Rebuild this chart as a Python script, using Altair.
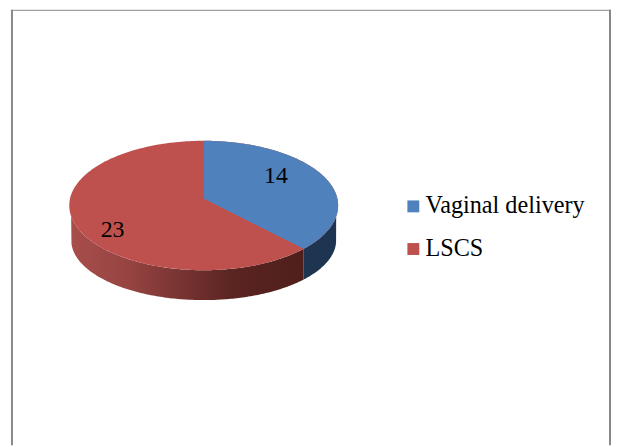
import numpy as np
import pandas as pd
import altair as alt

categories = ["Vaginal delivery", "LSCS"]
values = [14, 23]
colors = ["#4F81BD", "#BE504D"]

# layout of the tilted pie, in page pixels
CX, CY, A, B = 204.5, 204.5, 135.0, 65.0     # top face ellipse
BCY, BA, BB = 239.5, 133.0, 60.0             # bottom rim ellipse
APEX_Y = 197.5                               # slice apex (perspective shift)
W, H = 608, 439
S = 0.996                                    # photographed size of the page against its layout size

theta_end = 2 * np.pi * values[0] / sum(values)
dx, dy = A * np.sin(theta_end), -B * np.cos(theta_end)
aa = (dx / A) ** 2 + (dy / B) ** 2
bb = 2 * dy * (APEX_Y - CY) / B ** 2
cc = ((APEX_Y - CY) / B) ** 2 - 1
t = (-bb + np.sqrt(bb ** 2 - 4 * aa * cc)) / (2 * aa)
PX, PY = CX + t * dx, APEX_Y + t * dy


def xs(lo, hi):
    th = np.linspace(np.arccos(np.clip((lo - CX) / A, -1, 1)), np.arccos(np.clip((hi - CX) / A, -1, 1)), 160)
    return CX + A * np.cos(th)


def upper(x):
    return CY - B * np.sqrt(np.clip(1 - ((x - CX) / A) ** 2, 0, 1))


def lower(x):
    return CY + B * np.sqrt(np.clip(1 - ((x - CX) / A) ** 2, 0, 1))


def rim(x):
    r = np.clip(1 - ((x - CX) / BA) ** 2, 0, 1)
    y = BCY + BB * np.sqrt(r)
    return np.where(np.abs(x - CX) > BA, lower(x), y)


x_all = xs(CX - A, CX + A)
red_top = pd.DataFrame({"x": x_all, "y": upper(x_all), "y2": lower(x_all), "cat": categories[1]})

x_blue = np.unique(np.concatenate([xs(CX, CX + A), [PX]]))
slice_edge = APEX_Y + (x_blue - CX) * (PY - APEX_Y) / (PX - CX)
blue_low = np.where(x_blue <= PX, slice_edge, lower(x_blue))
blue_top = pd.DataFrame({"x": x_blue, "y": upper(x_blue), "y2": blue_low, "cat": categories[0]})

x_wr = xs(CX - A, PX)
wall_red = pd.DataFrame({"x": x_wr, "y": lower(x_wr), "y2": rim(x_wr)})
x_wb = xs(PX, CX + A)
wall_blue = pd.DataFrame({"x": x_wb, "y": lower(x_wb), "y2": rim(x_wb)})

labels = pd.DataFrame({"x": [277, 113], "y": [175, 229], "t": [str(v) for v in values]})

X = alt.X("x:Q", scale=alt.Scale(domain=[8 * S, (8 + W) * S], nice=False, zero=False), axis=None)
Y = alt.Y("y:Q", scale=alt.Scale(domain=[(8 + H) * S, 8 * S], nice=False, zero=False), axis=None)
Y2 = alt.Y2("y2:Q")

grad_red = alt.Gradient(
    gradient="linear", x1=0, x2=1, y1=0, y2=0,
    stops=[
        alt.GradientStop(offset=0, color="#A84E4B"),
        alt.GradientStop(offset=0.25, color="#964442"),
        alt.GradientStop(offset=0.5, color="#743230"),
        alt.GradientStop(offset=0.7, color="#5A2421"),
        alt.GradientStop(offset=1, color="#4F1F1C"),
    ],
)

color = alt.Color(
    "cat:N",
    scale=alt.Scale(domain=categories, range=colors),
    legend=alt.Legend(
        title=None, orient="none", legendX=396.5, legendY=186,
        symbolType="square", symbolSize=144, symbolStrokeWidth=0, symbolOpacity=1,
        labelFont="Liberation Serif", labelFontSize=24.4, labelColor="#000000",
        labelLimit=300, rowPadding=18, labelOffset=0,
    ),
)

walls_r = alt.Chart(wall_red).mark_area(color=grad_red).encode(x=X, y=Y, y2=Y2)
walls_b = alt.Chart(wall_blue).mark_area(color="#1D3550").encode(x=X, y=Y, y2=Y2)
top_r = alt.Chart(red_top).mark_area().encode(x=X, y=Y, y2=Y2, color=color)
top_b = alt.Chart(blue_top).mark_area().encode(x=X, y=Y, y2=Y2, color=color)
text = alt.Chart(labels).mark_text(
    font="Liberation Serif", fontSize=24, color="#000000", align="center", baseline="middle"
).encode(x=X, y=Y, text="t:N")

frame_color = "#888888"
left = alt.Chart().mark_rule(color=frame_color, strokeWidth=2).encode(x=alt.value(4), y=alt.value(0), y2=alt.value(H))
right = alt.Chart().mark_rule(color=frame_color, strokeWidth=2).encode(x=alt.value(607), y=alt.value(0), y2=alt.value(H))
top = alt.Chart().mark_rule(color=frame_color, strokeWidth=1).encode(x=alt.value(3), x2=alt.value(608), y=alt.value(0.5))

chart = (
    alt.layer(left, right, top, walls_r, walls_b, top_r, top_b, text)
    .properties(width=W, height=H, padding=0, autosize=alt.AutoSizeParams(type="none"), background="#FFFFFF")
    .configure_view(stroke=None)
)

chart.save("out.html", embed_options={"renderer": "svg", "actions": False})
